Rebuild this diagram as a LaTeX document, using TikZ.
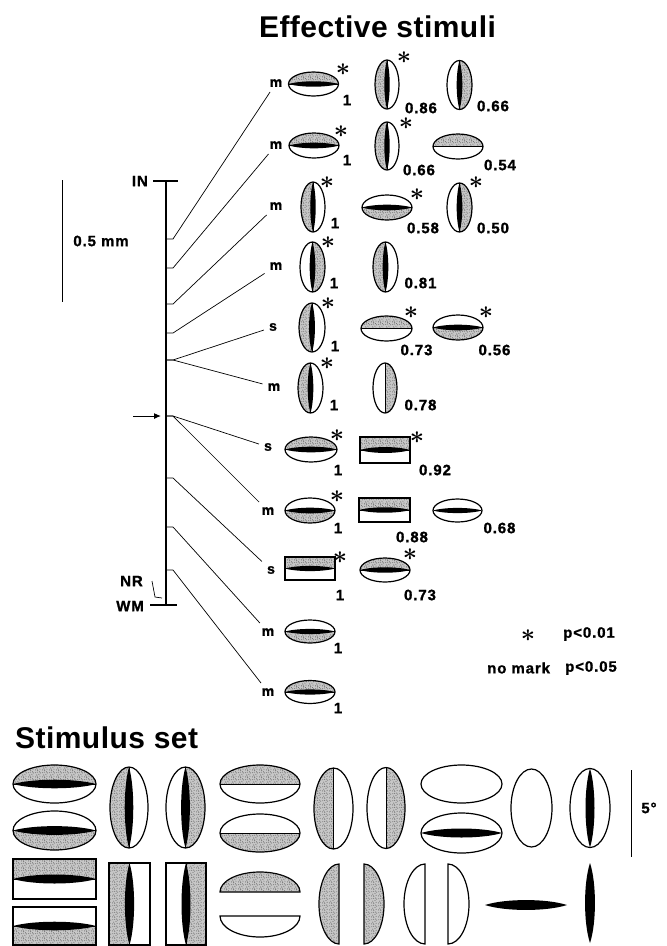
\documentclass[tikz,border=0pt]{standalone}
\usepackage{fontspec}
\setmainfont{Liberation Sans}
\newfontfamily\lblfont{Liberation Sans}[LetterSpace=6, BoldFeatures={FakeBold=1.2}]
\newfontfamily\headfont{Liberation Sans}[LetterSpace=1.5]
\usetikzlibrary{arrows.meta, patterns.meta}

% speckled fill of the stimuli
\tikzdeclarepattern{
  name=stipple,
  type=uncolored,
  bounding box={(0pt,0pt) and (7pt,7pt)},
  tile size={(7pt,7pt)},
  code={
    \foreach \p in {(0.5pt,1.2pt),(3.1pt,0.4pt),(5.6pt,2.0pt),(1.8pt,3.3pt),(4.4pt,4.1pt),
                    (6.3pt,5.5pt),(0.9pt,5.9pt),(3.0pt,6.4pt),(2.5pt,2.0pt),(5.1pt,6.7pt)}
      \fill \p circle (0.5pt);
  }
}

\tikzset{
  stip/.style={fill=black!22, postaction={pattern=stipple, pattern color=black!70}},
  outl/.style={line width=1.2pt},
  divl/.style={line width=0.8pt},
  lead/.style={line width=0.7pt},
  lbl/.style={font=\lblfont\bfseries\fontsize{15}{17}\selectfont, inner sep=0pt},
  cell/.style={font=\lblfont\bfseries\fontsize{14}{16}\selectfont, inner sep=5pt},
  sig/.style={font=\fontsize{24}{24}\selectfont\boldmath, inner sep=0pt},
  head/.style={font=\headfont\bfseries\fontsize{30}{32}\selectfont, inner sep=0pt}
}

% half of the glyph that is stippled: t, b, l, r or n
\newcommand{\stimfill}[5]{%
  \ifx t#1\fill[stip] (#2-#4,#3-#5) rectangle (#2+#4,#3);\fi
  \ifx b#1\fill[stip] (#2-#4,#3) rectangle (#2+#4,#3+#5);\fi
  \ifx l#1\fill[stip] (#2-#4,#3-#5) rectangle (#2,#3+#5);\fi
  \ifx r#1\fill[stip] (#2,#3-#5) rectangle (#2+#4,#3+#5);\fi
}
% dividing line between the halves
\newcommand{\stimline}[5]{%
  \ifx t#1\draw[divl] (#2-#4,#3) -- (#2+#4,#3);\fi
  \ifx b#1\draw[divl] (#2-#4,#3) -- (#2+#4,#3);\fi
  \ifx l#1\draw[divl] (#2,#3-#5) -- (#2,#3+#5);\fi
  \ifx r#1\draw[divl] (#2,#3-#5) -- (#2,#3+#5);\fi
}
% black spindle: h, v or n
\newcommand{\stimbar}[5]{%
  \ifx h#1\pgfmathsetmacro\spw{0.3*#5}%
    \fill (#2-#4,#3) .. controls (#2-#4/2,#3-\spw) and (#2+#4/2,#3-\spw) .. (#2+#4,#3)
      .. controls (#2+#4/2,#3+\spw) and (#2-#4/2,#3+\spw) .. cycle;\fi
  \ifx v#1\pgfmathsetmacro\spw{0.3*#4}%
    \fill (#2,#3-#5) .. controls (#2-\spw,#3-#5/2) and (#2-\spw,#3+#5/2) .. (#2,#3+#5)
      .. controls (#2+\spw,#3+#5/2) and (#2+\spw,#3-#5/2) .. cycle;\fi
}
% elliptic and rectangular stimuli: shade, spindle, x, y, rx, ry
\newcommand{\ellstim}[6]{%
  \begin{scope}
    \clip (#3,#4) ellipse ({#5} and {#6});
    \stimfill{#1}{#3}{#4}{#5}{#6}
  \end{scope}
  \stimline{#1}{#3}{#4}{#5}{#6}
  \stimbar{#2}{#3}{#4}{#5}{#6}
  \draw[outl] (#3,#4) ellipse ({#5} and {#6});
}
\newcommand{\recstim}[6]{%
  \stimfill{#1}{#3}{#4}{#5}{#6}
  \stimline{#1}{#3}{#4}{#5}{#6}
  \stimbar{#2}{#3}{#4}{#5}{#6}
  \draw[outl] (#3-#5,#4-#6) rectangle (#3+#5,#4+#6);
}

\begin{document}
\begin{tikzpicture}[x=1pt, y=-1pt]
    \fill[white] (0,0) rectangle (667,946);
    \path[use as bounding box] (0,0) rectangle (667,946);

    % Titles
    \node[head, anchor=base] (ttl) at (377.5,37) {Effective stimuli};
    \node[head, anchor=base west] (set) at (15,748) {Stimulus set};

    % Electrode track
    \coordinate (in) at (166,181);
    \coordinate (wm) at (166,605);
    \draw[line width=1.3pt] (in) -- (wm);
    \draw[line width=1.3pt] (153,181) -- (178,181);
    \draw[line width=1.3pt] (150,605) -- (177,605);
    \node[lbl, anchor=east] (inlbl) at (148,181) {IN};
    \node[lbl, anchor=east] (wmlbl) at (144,606) {WM};
    \node[lbl, anchor=east] (nrlbl) at (143,581) {NR};
    \draw[lead] ([xshift=9pt]nrlbl.east) -- (155,597) -- (162,598);
    \draw[line width=1pt, -{Latex[length=7pt,width=6pt]}] (133,416) -- (161,416);

    % Scale bar
    \draw[line width=1pt] (62,180) -- (62,302);
    \node[lbl] (mm) at (101,241) {0.5 mm};

    % Cells
    \node[cell] (c1) at (276,83) {m};
    \node[cell] (c2) at (276,145) {m};
    \node[cell] (c3) at (276,206) {m};
    \node[cell] (c4) at (276,266) {m};
    \node[cell] (c5) at (273,327) {s};
    \node[cell] (c6) at (274,387) {m};
    \node[cell] (c7) at (268,447) {s};
    \node[cell] (c8) at (268,511) {m};
    \node[cell] (c9) at (271,570) {s};
    \node[cell] (c10) at (268,632) {m};
    \node[cell] (c11) at (268,692) {m};

    \foreach \k/\y in {1/239,2/268,3/304,4/333,5/360,6/416,7/478,8/527,9/570}
        \coordinate (k\k) at (173,\y);
    \foreach \k/\c in {1/1,2/2,3/3,4/4,5/5,5/6,6/7,6/8,7/9,8/10,9/11}
        \draw[lead] (in |- k\k) -- (k\k) -- (c\c);

    % Effective stimuli
    \ellstim{t}{h}{313.5}{84}{25}{12}
    \ellstim{l}{v}{387}{84.5}{12}{24.5}
    \ellstim{r}{v}{459.5}{85}{12.5}{24.5}
    \node[sig] (a1) at (343,70) {$\ast$};
    \node[sig] (a2) at (404,58) {$\ast$};
    \node[lbl] (v1) at (347,100) {1};
    \node[lbl] (v2) at (421,108) {0.86};
    \node[lbl] (v3) at (493,106) {0.66};

    \ellstim{t}{h}{314}{145.5}{25}{12.5}
    \ellstim{l}{v}{387}{146}{12}{24}
    \ellstim{t}{n}{458}{146.5}{25}{12.5}
    \node[sig] (a3) at (341,132) {$\ast$};
    \node[sig] (a4) at (406,124) {$\ast$};
    \node[lbl] (v4) at (347,160) {1};
    \node[lbl] (v5) at (419,170) {0.66};
    \node[lbl] (v6) at (500,165) {0.54};

    \ellstim{l}{v}{313}{207}{12}{25}
    \ellstim{b}{h}{387}{207.5}{25}{12.5}
    \ellstim{r}{v}{459.5}{207.5}{12.5}{24.5}
    \node[sig] (a5) at (327,183) {$\ast$};
    \node[sig] (a6) at (417,195) {$\ast$};
    \node[sig] (a7) at (476,183) {$\ast$};
    \node[lbl] (v7) at (335,223) {1};
    \node[lbl] (v8) at (423,228) {0.58};
    \node[lbl] (v9) at (493,228) {0.50};

    \ellstim{r}{v}{312.5}{267}{12.5}{25}
    \ellstim{l}{v}{385.5}{267}{12.5}{25}
    \node[sig] (a8) at (328,243) {$\ast$};
    \node[lbl] (v10) at (334,283) {1};
    \node[lbl] (v11) at (420.5,283) {0.81};

    \ellstim{l}{v}{312}{327.5}{13}{24.5}
    \ellstim{t}{n}{386.5}{328.5}{25.5}{12.5}
    \ellstim{b}{h}{458}{327.5}{25}{12.5}
    \node[sig] (a9) at (328,304) {$\ast$};
    \node[sig] (a10) at (411,313) {$\ast$};
    \node[sig] (a11) at (486,313) {$\ast$};
    \node[lbl] (v12) at (335,346) {1};
    \node[lbl] (v13) at (416.5,350) {0.73};
    \node[lbl] (v14) at (494.5,350) {0.56};

    \ellstim{l}{v}{310.5}{388}{12.5}{25}
    \ellstim{r}{n}{385}{388}{12}{25}
    \node[sig] (a12) at (327,364) {$\ast$};
    \node[lbl] (v15) at (334,405) {1};
    \node[lbl] (v16) at (420.5,405) {0.78};

    \ellstim{t}{h}{311}{449.5}{26}{12.5}
    \recstim{t}{h}{385}{450}{25}{13}
    \node[sig] (a13) at (337,436) {$\ast$};
    \node[sig] (a14) at (417,438) {$\ast$};
    \node[lbl] (v17) at (338,470) {1};
    \node[lbl] (v18) at (435,470) {0.92};

    \ellstim{b}{h}{310}{510.5}{25}{12.5}
    \recstim{t}{h}{384.5}{510}{25.5}{12}
    \ellstim{n}{h}{457.5}{510.5}{24.5}{11.5}
    \node[sig] (a15) at (337,497) {$\ast$};
    \node[lbl] (v19) at (338,528) {1};
    \node[lbl] (v20) at (412,537) {0.88};
    \node[lbl] (v21) at (499.5,528) {0.68};

    \recstim{t}{h}{310}{568.5}{25}{11.5}
    \ellstim{t}{h}{385}{570}{25}{12}
    \node[sig] (a16) at (340,558) {$\ast$};
    \node[sig] (a17) at (410,555) {$\ast$};
    \node[lbl] (v22) at (340,595) {1};
    \node[lbl] (v23) at (420,595) {0.73};

    \ellstim{b}{h}{310}{631.5}{25}{11.5}
    \node[lbl] (v24) at (338,648) {1};

    \ellstim{t}{h}{310}{692}{25}{11.5}
    \node[lbl] (v25) at (338,708) {1};

    % Legend
    \node[sig] (legast) at (528,636) {$\ast$};
    \node[lbl, anchor=west] (leg1) at (563,634) {p<0.01};
    \node[lbl, anchor=west] (leg2) at (487,668) {no mark};
    \node[lbl, anchor=west] (leg3) at (565,668) {p<0.05};

    % Stimulus set, upper rows
    \ellstim{t}{h}{54.5}{784}{41.5}{19}
    \ellstim{b}{h}{54.5}{830.5}{41.5}{19.5}
    \ellstim{l}{v}{129}{807.5}{19}{40.5}
    \ellstim{r}{v}{185.5}{807.5}{19.5}{40.5}
    \ellstim{t}{n}{260}{784}{40}{19}
    \ellstim{b}{n}{260}{833}{40}{19}
    \ellstim{l}{n}{333.5}{808.5}{19.5}{40.5}
    \ellstim{r}{n}{386}{808}{19}{40.5}
    \ellstim{n}{n}{461.5}{784}{40.5}{19}
    \ellstim{n}{h}{461.5}{833}{40.5}{20}
    \ellstim{n}{n}{531.5}{808}{20.5}{39}
    \ellstim{n}{v}{590}{808}{20}{39.5}
    \draw[line width=1pt] (631,770) -- (631,857);
    \node[lbl] (deg) at (649,808) {5°};

    % Stimulus set, lower rows
    \recstim{t}{h}{54.5}{879}{41.5}{20}
    \recstim{b}{h}{54.5}{926}{41.5}{19}
    \recstim{l}{v}{129.5}{904}{20.5}{41}
    \recstim{r}{v}{186}{904}{20}{41}
    \filldraw[stip, outl] (220,892) arc[start angle=180, end angle=360, x radius=40, y radius=20] -- cycle;
    \draw[outl] (300,916) arc[start angle=0, end angle=180, x radius=40, y radius=21] -- cycle;
    \filldraw[stip, outl] (339,864) arc[start angle=270, end angle=90, x radius=20, y radius=40] -- cycle;
    \filldraw[stip, outl] (364,864) arc[start angle=-90, end angle=90, x radius=20, y radius=40] -- cycle;
    \draw[outl] (425,864) arc[start angle=270, end angle=90, x radius=21, y radius=40] -- cycle;
    \draw[outl] (448,864) arc[start angle=-90, end angle=90, x radius=21, y radius=40] -- cycle;
    \stimbar{h}{526}{905}{41}{22}
    \stimbar{v}{590}{903}{22}{40}
\end{tikzpicture}
\end{document}
